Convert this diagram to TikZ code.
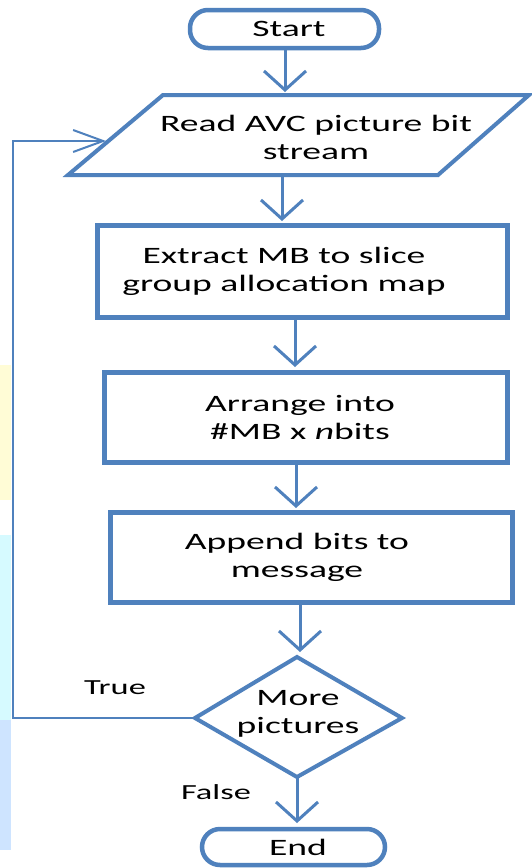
\documentclass[tikz,border=0pt]{standalone}
\usepackage{fontspec}
\setmainfont[FakeStretch=1.6]{Carlito}
\usetikzlibrary{arrows.meta}
\definecolor{flowblue}{RGB}{79,129,189}
\definecolor{stripyellow}{RGB}{255,252,214}
\definecolor{stripcyan}{RGB}{214,250,255}
\definecolor{stripblue}{RGB}{206,228,255}
\begin{document}
\begin{tikzpicture}[x=1pt,y=-1pt,
  txt/.style={align=center,inner sep=0pt,font=\fontsize{23.5}{28}\selectfont},
  lbl/.style={inner sep=0pt,font=\fontsize{21.5}{24}\selectfont},
  procbox/.style={draw=flowblue,line width=5pt,rectangle},
  term/.style={draw=flowblue,line width=4.5pt,rectangle,rounded corners=18pt},
  shapeline/.style={draw=flowblue,line width=4pt,line join=miter},
  flow/.style={draw=flowblue,line width=3pt,-{Straight Barb[length=19pt,width=42pt,line width=3pt]}},
  loopline/.style={draw=flowblue,line width=2pt,-{Straight Barb[length=30pt,width=22pt,line width=2pt]}}]
  % page and faint left margin strip
  \fill[white] (0,0) rectangle (531,868);
  \useasboundingbox (0,0) rectangle (531,868);
  \fill[stripyellow] (0,365) rectangle (11,500);
  \fill[stripcyan] (0,535) rectangle (11,720);
  \fill[stripblue] (0,720) rectangle (11,850);

  % terminals and process boxes
  \node[term,minimum width=189pt,minimum height=38pt] (start) at (284.5,29) {};
  \node[txt] (startT) at (289,29) {Start};

  \coordinate (p1) at (163,95);
  \coordinate (p2) at (529,95);
  \coordinate (p3) at (438,175);
  \coordinate (p4) at (68,175);
  \draw[shapeline] (p1) -- (p2) -- (p3) -- (p4) -- cycle;
  \node[txt] (read) at (316,137) {Read AVC picture bit\\stream};

  \node[procbox,minimum width=410pt,minimum height=92pt] (extract) at (302.5,271.5) {};
  \node[txt] (extractT) at (284,271) {Extract MB to slice\\group allocation map};

  \node[procbox,minimum width=403pt,minimum height=90pt] (arrange) at (306,417.5) {};
  \node[txt] (arrangeT) at (300,417) {Arrange into\\\#MB x \textit{n}bits};

  \node[procbox,minimum width=402pt,minimum height=90pt] (append) at (311.5,557.5) {};
  \node[txt] (appendT) at (297,557) {Append bits to\\message};

  % decision
  \coordinate (dtop) at (297,657);
  \coordinate (dright) at (402,718);
  \coordinate (dbot) at (297,777);
  \coordinate (dleft) at (195,718);
  \draw[shapeline] (dtop) -- (dright) -- (dbot) -- (dleft) -- cycle;
  \node[txt] (moreT) at (298,714) {More\\pictures};

  \node[term,minimum width=183pt,minimum height=36pt] (end) at (293.5,847) {};
  \node[txt] (endT) at (298,847) {End};

  % connectors
  \draw[flow] (start.south -| 285,0) -- (285,92);
  \draw[flow] (p4 -| 282,0) -- (282,221);
  \draw[flow] (extract.south -| 295,0) -- (295,367);
  \draw[flow] (arrange.south -| 296,0) -- (296,508);
  \draw[flow] (append.south -| 300,0) -- (300,652);
  \draw[flow] (dbot) -- (297,823);
  \coordinate (loopcorner1) at (13,718);
  \coordinate (loopcorner2) at (13,141);
  \coordinate (loopend) at (106,141);
  \draw[loopline] (dleft) -- (loopcorner1) -- (loopcorner2) -- (loopend);

  % branch labels
  \node[lbl] (trueL) at (115,688) {True};
  \node[lbl] (falseL) at (216,792) {False};
\end{tikzpicture}
\end{document}
